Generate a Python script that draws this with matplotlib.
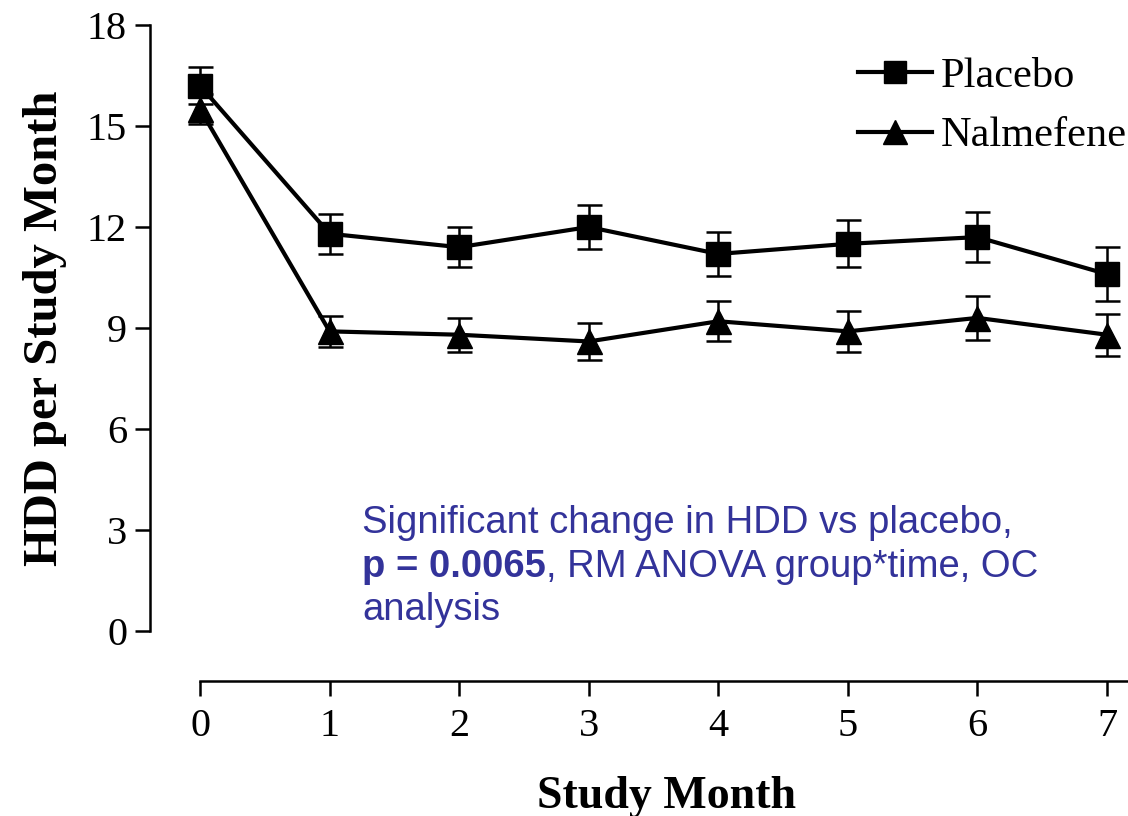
import numpy as np
import matplotlib.pyplot as plt
from matplotlib.lines import Line2D

months = [0, 1, 2, 3, 4, 5, 6, 7]
placebo = [16.2, 11.8, 11.4, 12.0, 11.2, 11.5, 11.7, 10.6]
placebo_sem = [0.55, 0.6, 0.6, 0.65, 0.65, 0.7, 0.75, 0.8]
nalmefene = [15.5, 8.9, 8.8, 8.6, 9.2, 8.9, 9.3, 8.8]
nalmefene_sem = [0.45, 0.45, 0.5, 0.55, 0.6, 0.6, 0.65, 0.62]
yticks = [0, 3, 6, 9, 12, 15, 18]
note_lines = ["Significant change in HDD vs placebo,",
              "p = 0.0065", ", RM ANOVA group*time, OC",
              "analysis"]

W, H = 1128, 816
fig = plt.figure(figsize=(W / 100, H / 100), dpi=100)
ax = fig.add_axes([150 / W, (H - 681) / H, (W - 150) / W, (681 - 25) / H])

style = dict(color="black", lw=3, elinewidth=1.8, capsize=9, capthick=1.8)
ax.errorbar(months, placebo, yerr=placebo_sem, marker="s", ms=17, **style)
ax.errorbar(months, nalmefene, yerr=nalmefene_sem, marker="^", ms=18, **style)

xpx = (1107 - 200) / 7
ax.set_xlim(-50 / xpx, 7 + 21 / xpx)
ypx = (631 - 25) / 18
ax.set_ylim(-50 / ypx, 18)

for side in ["top", "right"]:
    ax.spines[side].set_visible(False)
ax.spines["left"].set_bounds(0, 18)
ax.spines["bottom"].set_bounds(0, 7 + 21 / xpx)
ax.spines["left"].set_linewidth(1.8)
ax.spines["bottom"].set_linewidth(1.8)

ax.set_xticks(months)
ax.set_yticks(yticks)
ax.tick_params(length=10.5, width=1.8, labelsize=29)
ax.tick_params(axis="x", pad=9)
ax.tick_params(axis="y", pad=6)
for lab in ax.get_xticklabels() + ax.get_yticklabels():
    lab.set_family("Liberation Serif")

# labels centred on the drawn spine spans, not the full axes box
ax.set_xlabel("Study Month", family="Liberation Serif", fontweight="bold",
              fontsize=33, labelpad=22)
ax.xaxis.label.set_x((667 - 150) / (W - 150))
ax.set_ylabel("HDD per Study Month", family="Liberation Serif",
              fontweight="bold", fontsize=35, labelpad=14)
ax.yaxis.label.set_y((681 - 328) / (681 - 25))

handles = [Line2D([], [], color="black", lw=3, marker="s", ms=16),
           Line2D([], [], color="black", lw=3, marker="^", ms=17)]
fig.legend(handles, ["Placebo", "Nalmefene"], loc="upper left",
           bbox_to_anchor=(858 / W, 1 - 57 / H), frameon=False,
           prop={"family": "Liberation Serif", "size": 30.5},
           handlelength=1.75, handletextpad=0.2, labelspacing=0.5,
           borderpad=0, borderaxespad=0)

blue = "#33339a"
tx = 362 / W
font = dict(color=blue, fontsize=27.5, family="Liberation Sans", va="baseline")
fig.text(tx, 1 - 533 / H, note_lines[0], **font)
bold = fig.text(tx, 1 - 577 / H, note_lines[1], fontweight="bold", **font)
fig.canvas.draw()
bb = bold.get_window_extent(fig.canvas.get_renderer())
fig.text(bb.x1 / W, 1 - 577 / H, note_lines[2], **font)
fig.text(tx, 1 - 620 / H, note_lines[3], **font)

fig.savefig("out.png", dpi=100)
